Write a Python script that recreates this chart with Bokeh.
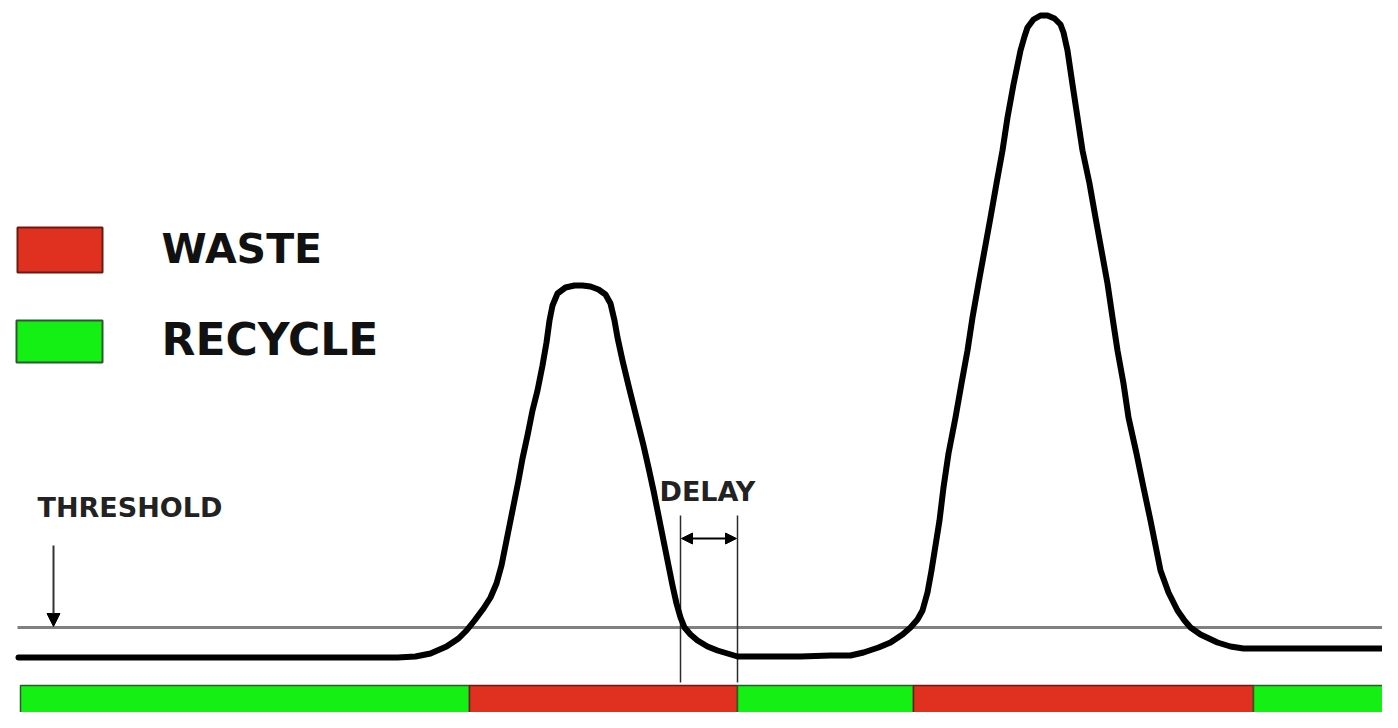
from bokeh.plotting import figure
from bokeh.models import Range1d, Arrow, NormalHead, ColumnDataSource
from bokeh.core.properties import value
from bokeh.embed import file_html
from bokeh.resources import INLINE

# ---- data (time units along x, detector signal along y) ----
time = [18, 100, 200, 300, 370, 397, 415, 430, 446, 458, 466, 474, 483, 490, 496, 501,
        505, 509, 513, 518, 522, 527, 532, 537, 542, 546, 549, 552, 557, 565, 574, 582,
        590, 598, 605, 610, 614, 617, 622, 628, 633, 638, 643, 648, 653, 658, 663, 668,
        672, 676, 680, 684, 690, 697, 707, 717, 727, 737, 760, 800, 830, 850, 863, 878,
        890, 902, 910, 917, 922, 927, 931, 935, 939, 943, 948, 955, 961, 967, 972, 978,
        984, 990, 996, 1002, 1007, 1013, 1020, 1024, 1027, 1033, 1040, 1047, 1054, 1060,
        1063, 1067, 1072, 1077, 1082, 1089, 1095, 1101, 1107, 1112, 1117, 1123, 1128,
        1136, 1143, 1150, 1155, 1160, 1168, 1177, 1184, 1190, 1200, 1217, 1230, 1243,
        1300, 1400]
signal = [71, 71, 71, 71, 71, 71, 72, 75, 82, 90, 98, 108, 120, 131, 145, 163,
          183, 203, 223, 248, 270, 293, 318, 338, 363, 386, 408, 423, 435, 441, 443, 443,
          442, 439, 434, 425, 408, 391, 368, 343, 323, 303, 283, 261, 238, 213, 188, 163,
          143, 125, 111, 101, 94, 88, 82, 78, 75, 72, 72, 72, 73, 73, 76, 81,
          86, 94, 101, 109, 118, 136, 158, 183, 208, 241, 275, 311, 345, 378, 411, 445,
          478, 511, 545, 578, 611, 644, 678, 692, 701, 709, 713, 713, 710, 704,
          696, 678, 644, 611, 578, 545, 511, 478, 445, 411, 378, 345, 311,
          275, 241, 208, 183, 158, 136, 118, 108, 101, 94, 86, 82, 80,
          80, 80]

threshold = 101
delay_start = 680
delay_end = 737

seg_start = [20, 469, 737, 913, 1253]
seg_end = [469, 737, 913, 1253, 1400]
seg_state = ["RECYCLE", "WASTE", "RECYCLE", "WASTE", "RECYCLE"]

legend_labels = ["WASTE", "RECYCLE"]

state_fill = {"WASTE": "#e0301f", "RECYCLE": "#14f014"}
state_line = {"WASTE": "#6a1a10", "RECYCLE": "#2a5a2a"}

FONT = value("DejaVu Sans")

p = figure(width=1382, height=712, x_range=Range1d(0, 1382), y_range=Range1d(16, 728),
           output_backend="svg", toolbar_location=None, min_border=0,
           min_border_left=0, min_border_right=0, min_border_top=0, min_border_bottom=0)
p.axis.visible = False
p.grid.visible = False
p.outline_line_color = None
p.background_fill_color = "white"
p.border_fill_color = "white"

# state bar
bar_src = ColumnDataSource(dict(
    left=seg_start, right=seg_end,
    fill=[state_fill[s] for s in seg_state],
    line=[state_line[s] for s in seg_state]))
p.quad(left="left", right="right", bottom=2, top=43, source=bar_src,
       fill_color="fill", line_color="line", line_width=1.5)

# threshold line
p.line([17, 1400], [threshold, threshold], line_color="#808080", line_width=3)

# delay marker lines
p.segment(x0=[delay_start, delay_end], y0=[46, 46], x1=[delay_start, delay_end], y1=[213, 213],
          line_color="#2a2a2a", line_width=1.5)

# signal trace
p.line(time, signal, line_color="black", line_width=6, line_join="round", line_cap="round")

# arrows
p.add_layout(Arrow(end=NormalHead(size=13, fill_color="black", line_color="black"),
                   x_start=53, y_start=183, x_end=53, y_end=threshold + 1,
                   line_color="#333333", line_width=2))
p.add_layout(Arrow(start=NormalHead(size=11, fill_color="black", line_color="black"),
                   end=NormalHead(size=11, fill_color="black", line_color="black"),
                   x_start=delay_start + 1, y_start=190, x_end=delay_end - 1, y_end=190,
                   line_color="black", line_width=2))

# legend boxes
leg_src = ColumnDataSource(dict(
    left=[17, 16], right=[102, 102], bottom=[456, 366], top=[501, 408],
    fill=[state_fill[s] for s in legend_labels],
    line=[state_line[s] for s in legend_labels]))
p.quad(left="left", right="right", bottom="bottom", top="top", source=leg_src,
       fill_color="fill", line_color="line", line_width=2)

p.text(x=[161], y=[480], text=[legend_labels[0]], text_font=FONT, text_font_style="bold",
       text_font_size="41px", text_baseline="alphabetic", text_color="#111111")
p.text(x=[161], y=[389], text=[legend_labels[1]], text_font=FONT, text_font_style="bold",
       text_font_size="44px", text_baseline="alphabetic", text_color="#111111")
p.text(x=[37], y=[221], text=["THRESHOLD"], text_font=FONT, text_font_style="bold",
       text_font_size="27px", text_baseline="alphabetic", text_color="#222222")
p.text(x=[659], y=[237], text=["DELAY"], text_font=FONT, text_font_style="bold",
       text_font_size="27px", text_baseline="alphabetic", text_color="#222222")

open("out.html", "w").write(file_html(p, INLINE))
